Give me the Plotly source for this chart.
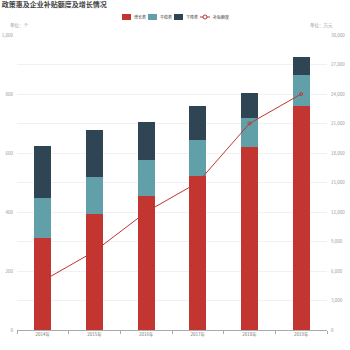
import plotly.graph_objects as go

years = ["2014年", "2015年", "2016年", "2017年", "2018年", "2019年"]
growth = [312, 393, 454, 523, 620, 759]
stable = [135, 126, 122, 120, 98, 105]
decline = [177, 159, 128, 116, 85, 61]
subsidy = [5000, 8000, 12000, 15000, 21000, 24000]

names = ["增长类", "平稳类", "下降类", "补贴额度"]
colors = ["#c23531", "#61a0a8", "#2f4554", "#c23531"]

FONT = "Noto Sans CJK SC"
W, H = 350, 350
L, R, T, B = 17, 23, 35, 20
pw, ph = W - L - R, H - T - B

def px(x):
    return (x - L) / pw

def py(y):
    return (H - B - y) / ph

fig = go.Figure()
for vals, nm, c in zip([growth, stable, decline], names[:3], colors[:3]):
    fig.add_bar(x=years, y=vals, name=nm, marker=dict(color=c, line=dict(width=0)))
fig.add_scatter(x=years, y=subsidy, name=names[3], yaxis="y2", mode="lines+markers",
                line=dict(color="#c23531", width=1),
                marker=dict(symbol="circle-open", size=3, color="#c23531"))

shapes = []
annotations = []
# manual legend
starts = [122, 148, 174]
ly = 17
for s, nm, c in zip(starts, names[:3], colors[:3]):
    shapes.append(dict(type="rect", xref="paper", yref="paper", x0=px(s), x1=px(s + 9),
                       y0=py(ly + 3), y1=py(ly - 3), fillcolor=c, line=dict(width=0)))
    annotations.append(dict(text=nm, xref="paper", yref="paper", x=px(s + 10), y=py(ly),
                            xanchor="left", yanchor="middle", showarrow=False,
                            font=dict(size=4, color="#444")))
s = 200
shapes.append(dict(type="line", xref="paper", yref="paper", x0=px(s), x1=px(s + 10),
                   y0=py(ly), y1=py(ly), line=dict(color="#c23531", width=1)))
shapes.append(dict(type="circle", xref="paper", yref="paper", x0=px(s + 3), x1=px(s + 7),
                   y0=py(ly + 2), y1=py(ly - 2), fillcolor="white", line=dict(color="#c23531", width=1)))
annotations.append(dict(text=names[3], xref="paper", yref="paper", x=px(s + 11), y=py(ly),
                        xanchor="left", yanchor="middle", showarrow=False,
                        font=dict(size=4, color="#444")))
annotations += [
    dict(text="单位：个", x=px(8), xref="paper", y=py(25), yref="paper", xanchor="left", yanchor="middle",
         showarrow=False, font=dict(size=4.5, color="#999")),
    dict(text="单位：万元", x=px(335), xref="paper", y=py(25), yref="paper", xanchor="right", yanchor="middle",
         showarrow=False, font=dict(size=4.5, color="#999")),
]

fig.update_layout(
    width=W, height=H, barmode="stack", bargap=0.67, showlegend=False,
    margin=dict(l=L, r=R, t=T, b=B),
    paper_bgcolor="white", plot_bgcolor="white",
    font=dict(family=FONT, size=6, color="#999"),
    title=dict(text="<b>政策惠及企业补贴额度及增长情况</b>", x=0.005, xanchor="left", y=0.993, yanchor="top",
               font=dict(size=7, color="#444", family=FONT)),
    xaxis=dict(showline=True, linecolor="#aaa", ticks="outside", tickcolor="#aaa", ticklen=3,
               tickfont=dict(size=4.5, color="#777"), showgrid=False, automargin=False,
               tickson="boundaries"),
    yaxis=dict(range=[0, 1000], dtick=200, tickformat=",d", showgrid=True, gridcolor="#f0f0f5",
               minor=dict(dtick=100, showgrid=True, gridcolor="#f0f0f5"),
               zeroline=False, tickfont=dict(size=4.5, color="#999"), ticks="", automargin=False,
               ticklabelstandoff=3),
    yaxis2=dict(range=[0, 30000], dtick=3000, tickformat=",d", overlaying="y", side="right",
                showgrid=False, zeroline=False, tickfont=dict(size=4.5, color="#999"), automargin=False,
                ticklabelstandoff=3),
    shapes=shapes,
    annotations=annotations,
)
fig.write_html("out.html")
